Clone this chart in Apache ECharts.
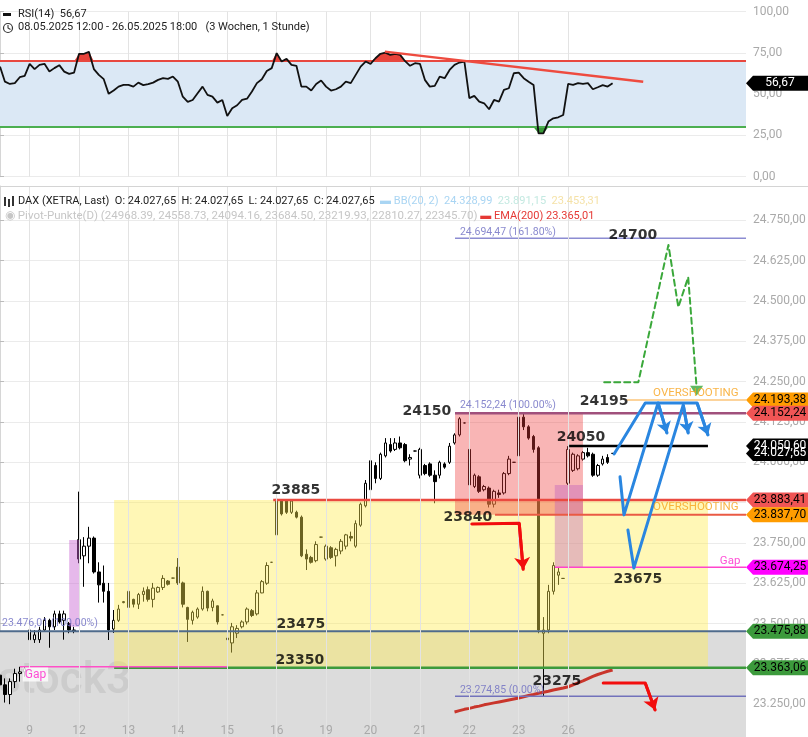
<!DOCTYPE html>
<html><head><meta charset="utf-8">
<script src="https://cdn.jsdelivr.net/npm/echarts/dist/echarts.min.js"></script>
<style>html,body{margin:0;padding:0;background:#fff}#c{width:808px;height:737px}</style>
</head><body><div id="c"></div>
<script>
// ================= DATA =================
const dayNames = ['8','9','12','13','14','15','16','19','20','21','22','23','26'];
const daySlots = [6,10,10,10,10,10,10,9,10,10,10,10,10];
const futureSlots = 27;

// [open, close, low, high] hourly candles
const candles = [
[23340,23310,23290,23395],[23310,23280,23255,23330],[23280,23320,23250,23330],[23320,23345,23300,23360],[23345,23350,23320,23366],[23350,23360,23335,23366],
[23480,23450,23445,23495],[23450,23465,23440,23480],[23450,23480,23440,23490],[23480,23510,23475,23520],[23510,23490,23425,23515],[23490,23530,23480,23540],[23530,23505,23500,23540],[23510,23530,23450,23540],[23500,23480,23470,23505],[23480,23476,23470,23490],
[23760,23700,23687,23909],[23710,23740,23614,23768],[23740,23765,23687,23800],[23765,23660,23655,23770],[23660,23620,23565,23690],[23625,23600,23565,23680],[23600,23480,23449,23626],[23483,23510,23471,23542],[23510,23545,23505,23558],[23565,23568,23563,23570],
[23550,23600,23548,23620],[23575,23560,23550,23577],[23560,23590,23545,23595],[23590,23600,23568,23612],[23605,23575,23568,23615],[23575,23610,23550,23626],[23598,23612,23595,23615],[23612,23640,23604,23650],[23632,23622,23618,23635],[23641,23641,23640,23642],
[23675,23626,23620,23703],[23626,23560,23550,23630],[23550,23513,23443,23552],[23510,23535,23497,23540],[23520,23545,23515,23550],[23545,23600,23540,23615],[23600,23548,23538,23602],[23550,23570,23538,23577],[23555,23505,23497,23556],[23527,23527,23526,23528],
[23455,23450,23335,23462],[23440,23490,23410,23502],[23470,23485,23455,23495],[23490,23505,23485,23510],[23505,23545,23497,23550],[23540,23525,23520,23545],[23530,23595,23525,23604],[23595,23630,23594,23635],[23625,23680,23620,23690],[23690,23690,23689,23691],
[23775,23885,23766,23890],[23880,23840,23835,23885],[23880,23845,23840,23885],[23845,23880,23840,23885],[23845,23830,23826,23850],[23830,23710,23706,23835],[23715,23700,23666,23730],[23705,23690,23686,23710],[23695,23745,23690,23755],[23768,23768,23767,23769],
[23700,23740,23695,23745],[23735,23705,23700,23740],[23710,23730,23677,23735],[23725,23755,23715,23762],[23740,23775,23730,23778],[23770,23765,23755,23785],[23740,23810,23735,23820],[23805,23870,23800,23875],[23865,23935,23860,23945],
[23915,24005,23905,24010],[23990,23950,23935,24000],[23950,24025,23945,24030],[24020,24060,24015,24075],[24055,24035,24030,24075],[24040,24060,24035,24075],[24060,24045,24040,24080],[24055,24005,24000,24060],[24010,24015,23990,24025],[24035,24035,24034,24036],
[23960,24040,23950,24045],[23990,23965,23960,23995],[23995,23960,23955,24000],[23960,23940,23873,23975],[23960,24000,23950,24005],[23995,23985,23980,24000],[24000,24050,23995,24060],[24060,24085,24055,24090],[24085,24135,24080,24140],[24122,24122,24121,24123],
[24040,23930,23915,24045],[23925,23960,23920,23965],[23955,23910,23905,23960],[23915,23925,23910,23930],[23920,23870,23860,23925],[23870,23910,23860,23915],[23905,23900,23890,23915],[23905,23965,23900,23970],[23965,24010,23960,24020],[24000,24000,23999,24001],
[24020,24140,24010,24152],[24140,24110,24100,24152],[24110,24075,24070,24115],[24080,24040,24030,24085],[24045,23480,23470,24050],[23470,23480,23275,23520],[23480,23600,23470,23620],[23600,23680,23590,23690],[23650,23660,23620,23675],[23640,23640,23639,23641],
[23935,24040,23930,24050],[23975,24025,23970,24030],[23980,24020,23975,24025],[24010,24030,24005,24035],[24030,24020,24015,24045],[24025,23960,23955,24030],[23960,23990,23955,23995],[23995,24010,23990,24020],[24015,24000,23995,24025],[24027.65,24027.65,24027.65,24027.65]
];

const rsiValues = [
66.7,57.6,56.2,56.7,60.3,61.1,
68.4,65.2,67.8,68.4,63.7,65.8,67.6,63.7,62.3,63.1,
74.5,74.5,75.7,65.2,61.7,59.1,50.2,52.2,54.6,55.6,
55.6,54.6,57,55.5,56.1,57,58.7,59.7,59.3,60.7,
57.6,48.5,45.3,46.5,50.6,54.6,49.6,48.5,44.9,46.5,
36.8,41.5,43.3,46.5,47.3,51.6,56.7,59.1,64.1,65.8,
74.9,69.8,71.4,67.8,67.2,54.6,54.6,52.2,56.2,58.3,
54.6,52.2,53,54.6,57.6,56.7,61.7,66.7,69.8,
68.4,71.8,74.5,75.2,73.8,74.5,73.8,70,67.2,68.8,
68.4,58.7,54.6,55,60.7,59.7,64.7,67.8,69.2,69.8,
47.6,49,45.5,44.5,40.9,46.5,45.5,52.6,53.6,62.7,
63.1,59.7,57.6,55.6,26.3,26.3,33.4,35.4,36,37.4,
56.2,55.6,56.7,56.2,56.7,53,54.2,55.5,54.6,56.67];

const emaStart = 92;
const emaValues = [23226,23230,23234,23237,23241,23244,23248,23251,23254,23257,23260,23263,23266,23269,23273,23277,23280,23284,23287,23290,23294,23297,23300,23304,23310,23316,23322,23329,23336,23342,23347,23352,23356];

// price levels
const lvlFib161 = 24694.47, lvlFib100 = 24152.24, lvlFib0 = 23274.85, lvlFibLeft = 23476.01;
const lvlOver1 = 24193.38, lvlRes = 23883.41, lvlOver2 = 23837.70, lvlBlack = 24050.60;
const lvlGap = 23674.25, lvlSup1 = 23475.88, lvlSup2 = 23363.06, lvlGapLeft = 23366, lastPrice = 24027.65, rsiLast = 56.67;

// ================= HELPERS =================
function de(v){ let s=Math.abs(v).toFixed(2); let [i,f]=s.split('.'); i=i.replace(/\B(?=(\d{3})+(?!\d))/g,'.'); return (v<0?'-':'')+i+','+f; }
const cats=[];
dayNames.forEach((d,k)=>{const h0=k===0?13:9; for(let j=0;j<daySlots[k];j++) cats.push(d+'|'+(h0+j));});
for(let j=0;j<futureSlots;j++) cats.push('f|x'+j);
const XMAX = cats.length-1;
const isDayStart = (i,v)=> String(v).split('|')[1]==='9';
const emaData = candles.map((c,i)=> i<emaStart ? null : emaValues[i-emaStart]);

const FONT='Roboto, sans-serif';
const chart = echarts.init(document.getElementById('c'));

function hline(x1,x2,p,color,width,z,type){
  return {type:'line',xAxisIndex:1,yAxisIndex:0,data:[[x1,p],[x2,p]],symbol:'none',silent:true,z:z||4,
    lineStyle:{color:color,width:width,type:type||'solid'}};
}
function poly(pts,color,width,dash){
  return {type:'line',xAxisIndex:1,yAxisIndex:0,data:pts,symbol:'none',silent:true,z:6,
    lineStyle:{color:color,width:width,type:dash||'solid',cap:'round',join:'round'}};
}
function arrowSeg(segs,color,width,size){
  return {type:'lines',coordinateSystem:'cartesian2d',xAxisIndex:1,yAxisIndex:0,silent:true,z:6,
    symbol:['none','arrow'],symbolSize:size||10,
    lineStyle:{color:color,width:width,opacity:1,curveness:0},
    data:segs.map(s=>({coords:s}))};
}
function texts(items,z){
  return {type:'scatter',xAxisIndex:1,yAxisIndex:0,symbolSize:0,silent:true,z:z||8,
    data:items.map(t=>({value:[t[1],t[2]],label:Object.assign({show:true,formatter:t[0]},t[3])}))};
}
const boldStyle={position:'inside',fontFamily:'DejaVu Sans',fontWeight:'bold',fontSize:14,color:'#000'};
const fibStyle={position:'right',distance:0,fontFamily:FONT,fontSize:10.5,color:'#6b6bc2'};
const overStyle={position:'right',distance:0,fontFamily:FONT,fontSize:11.5,color:'#f7a21b'};
const TAG='path://M0,8 L7,0 L62,0 L62,16 L7,16 Z';
function tag(p,bg,fg){return {coord:[XMAX,p],itemStyle:{color:bg},label:{formatter:de(p),color:fg}};}

const greenPath=[[122.3,24248],[129.2,24248],[135.3,24674],[137.3,24481],[139.3,24574],[141.0,24232]];
const blue1=[[124.3,24026],[130.6,24184],[141.1,24184],[143.3,24085]];
const blue2=[[125.5,23955],[126.3,23837],[133.2,24184],[135.0,24091]];
const blue3=[[127.1,23790],[128.3,23672],[138.3,24178],[139.3,24091]];
const red1=[[95.5,23809],[105.1,23811],[105.9,23668]];
const red2=[[122.1,23316],[130.6,23316],[132.6,23232]];
const BLUE='#2a86e0';
const F11='11px '+FONT, F115='11.5px '+FONT;

const option={
  animation:false,
  backgroundColor:'#fff',
  grid:[{left:0,top:186,width:746,height:558.5,outerBoundsMode:'none',containLabel:false},
        {left:0,top:11.7,width:746,height:165,outerBoundsMode:'none',containLabel:false}],
  xAxis:[
    {type:'category',gridIndex:0,data:cats,boundaryGap:false,z:5,axisLine:{show:false},axisTick:{show:false},
     axisLabel:{inside:true,interval:isDayStart,formatter:v=>v.split('|')[0],color:'#a9a9a9',fontSize:12,margin:8,fontFamily:FONT},
     splitLine:{show:true,interval:isDayStart,lineStyle:{color:'#e3e3e3'}}},
    {type:'value',gridIndex:0,min:0,max:XMAX,show:false},
    {type:'category',gridIndex:1,data:cats,boundaryGap:false,axisLine:{show:false},axisTick:{show:false},axisLabel:{show:false},
     splitLine:{show:true,interval:isDayStart,lineStyle:{color:'#e3e3e3'}}},
    {type:'value',gridIndex:1,min:0,max:XMAX,show:false}
  ],
  yAxis:[
    {type:'value',gridIndex:0,position:'right',min:23125,max:24856.74,interval:125,
     axisLine:{show:true,lineStyle:{color:'#d6d6d6'}},axisTick:{show:true,length:4,lineStyle:{color:'#bbb'}},
     axisLabel:{formatter:de,color:'#a9a9a9',fontSize:12,margin:7,fontFamily:FONT,showMaxLabel:false},
     splitLine:{show:true,lineStyle:{color:'#ebebeb'}}},
    {type:'value',gridIndex:1,position:'right',min:0,max:100,interval:25,
     axisLine:{show:true,lineStyle:{color:'#d6d6d6'}},axisTick:{show:true,length:4,lineStyle:{color:'#bbb'}},
     axisLabel:{formatter:de,color:'#a9a9a9',fontSize:12,margin:7,fontFamily:FONT},
     splitLine:{show:true,lineStyle:{color:'#ebebeb'}}}
  ],
  graphic:[
    {type:'rect',z:20,shape:{x:3,y:13,width:8,height:3},style:{fill:'#111'}},
    {type:'text',z:20,left:18,top:9,style:{text:'RSI(14)  56,67',font:F11,fill:'#222'}},
    {type:'circle',z:20,shape:{cx:8,cy:28,r:4.5},style:{fill:'none',stroke:'#333',lineWidth:1.2}},
    {type:'polyline',z:20,shape:{points:[[8,25],[8,28],[10.5,29.5]]},style:{fill:'none',stroke:'#333',lineWidth:1.1}},
    {type:'text',z:20,left:18,top:22,style:{text:'08.05.2025 12:00 - 26.05.2025 18:00   (3 Wochen, 1 Stunde)',font:F11,fill:'#222'}},
    {type:'line',z:20,shape:{x1:0,y1:186.5,x2:808,y2:186.5},style:{stroke:'#d4d4d4',lineWidth:1}},
    {type:'rect',z:20,shape:{x:4,y:197,width:2,height:9},style:{fill:'#333'}},
    {type:'rect',z:20,shape:{x:8,y:199,width:2,height:8},style:{fill:'#333'}},
    {type:'rect',z:20,shape:{x:12,y:196,width:2,height:10},style:{fill:'#333'}},
    {type:'text',z:20,left:18,top:196,style:{text:'{k|DAX (XETRA, Last)  O: 24.027,65  H: 24.027,65  L: 24.027,65  C: 24.027,65}  {b1|▬ BB(20, 2)  24.328,99}  {b2|23.891,15}  {b3|23.453,31}',
      font:F11,rich:{k:{fill:'#222',font:F11},b1:{fill:'#a9d5f3',font:F11},b2:{fill:'#c3e9e1',font:F11},b3:{fill:'#f5e2a8',font:F11}}}},
    {type:'text',z:20,left:5,top:210,style:{text:'{p|◉ Pivot-Punkte(D) (24968.39, 24558.73, 24094.16, 23684.50, 23219.93, 22810.27, 22345.70)} {e|▬ EMA(200) 23.365,01}',
      font:F115,rich:{p:{fill:'#c6c6c6',font:F115},e:{fill:'#e53935',font:F11}}}},
    {type:'text',left:-2,top:660,z:1.5,style:{text:'stock3',font:'600 44px '+FONT,fill:'rgba(0,0,0,0.07)'}}
  ],
  series:[
    // ---- RSI pane ----
    {type:'line',xAxisIndex:2,yAxisIndex:1,data:rsiValues.map(()=>70),stack:'ob',symbol:'none',silent:true,lineStyle:{width:0,opacity:0},z:2},
    {type:'line',xAxisIndex:2,yAxisIndex:1,data:rsiValues.map(v=>v>70?v-70:0),stack:'ob',symbol:'none',silent:true,lineStyle:{width:0,opacity:0},areaStyle:{color:'#e8433a',opacity:1},z:2},
    {type:'line',xAxisIndex:2,yAxisIndex:1,data:rsiValues.map(v=>Math.min(v,30)),stack:'os',symbol:'none',silent:true,lineStyle:{width:0,opacity:0},z:2},
    {type:'line',xAxisIndex:2,yAxisIndex:1,data:rsiValues.map(v=>v<30?30-v:0),stack:'os',symbol:'none',silent:true,lineStyle:{width:0,opacity:0},areaStyle:{color:'#3a9a3a',opacity:1},z:2},
    {type:'line',xAxisIndex:2,yAxisIndex:1,data:rsiValues,symbol:'none',silent:true,lineStyle:{color:'#111',width:1.8},z:5,
      markArea:{silent:true,z:1,itemStyle:{color:'#dbe8f5'},data:[[{yAxis:30},{yAxis:70}]]},
      markLine:{silent:true,symbol:'none',z:3,label:{show:false},data:[
        {yAxis:70,lineStyle:{color:'#e8483f',width:2,type:'solid'}},
        {yAxis:30,lineStyle:{color:'#4caf50',width:2,type:'solid'}}]}},
    {type:'line',xAxisIndex:3,yAxisIndex:1,data:[[77.9,75.8],[130.2,57.6]],symbol:'none',silent:true,lineStyle:{color:'#ee4b3f',width:2.5},z:6,
      markPoint:{silent:true,z:10,symbol:TAG,symbolSize:[62,15],symbolOffset:[31,0],
        label:{show:true,position:'inside',offset:[3,0],fontSize:12,fontFamily:FONT},
        data:[{coord:[XMAX,rsiLast],itemStyle:{color:'#000'},label:{formatter:de(rsiLast),color:'#fff'}}]}},
    // ---- main pane ----
    {type:'candlestick',xAxisIndex:0,yAxisIndex:0,data:candles,barWidth:3,silent:true,z:2,
      itemStyle:{color:'#fff',color0:'#000',borderColor:'#000',borderColor0:'#000',borderWidth:1},
      markArea:{silent:true,z:1,itemStyle:{color:'#dcdcdc'},data:[[{yAxis:lvlSup1},{yAxis:23125}]]}},
    {type:'line',xAxisIndex:1,yAxisIndex:0,data:[],silent:true,
      markArea:{silent:true,z:3,data:[
        [{coord:[23.1,lvlRes],itemStyle:{color:'rgba(255,236,80,0.42)'}},{coord:[143.3,lvlSup2]}],
        [{coord:[92.1,lvlFib100],itemStyle:{color:'rgba(240,60,60,0.38)'}},{coord:[118,lvlOver2]}],
        [{coord:[112.3,23930],itemStyle:{color:'rgba(190,90,190,0.38)'}},{coord:[118,lvlGap]}],
        [{coord:[14,23759],itemStyle:{color:'rgba(200,100,210,0.45)'}},{coord:[16.05,23490]}]
      ]}},
    {type:'line',xAxisIndex:0,yAxisIndex:0,data:emaData,symbol:'none',silent:true,z:4,lineStyle:{color:'#c9352b',width:3}},
    hline(0,XMAX,lvlSup1,'#4f6b8c',2),
    hline(23.1,XMAX,lvlSup2,'#3c9a3c',2.5),
    hline(4.05,46.15,lvlGapLeft,'#ff4fc8',1.5),
    hline(55.3,XMAX,lvlRes,'#ea4a40',2.5),
    hline(100.2,XMAX,lvlOver2,'#ea5a44',2),
    hline(92.1,XMAX,lvlFib100,'#a0507c',2.5),
    hline(92.1,XMAX,lvlFib161,'#8c8cd2',1.5),
    hline(92.1,XMAX,lvlFib0,'#7272bb',1.5),
    hline(126.9,XMAX,lvlOver1,'#fbc47a',1.5),
    hline(112.3,XMAX,lvlGap,'#ff44cc',1.5),
    hline(115.2,143.3,lvlBlack,'#000',2.5),
    // arrows
    poly(greenPath,'#3aa83a',2,[6,4]),
    {type:'scatter',xAxisIndex:1,yAxisIndex:0,silent:true,z:7,symbol:'triangle',symbolRotate:180,symbolSize:[13,10],itemStyle:{color:'#3aa83a'},data:[[141.0,24222]]},
    poly(blue1,BLUE,3),poly(blue2,BLUE,3),poly(blue3,BLUE,3),
    arrowSeg([blue1.slice(2),blue2.slice(2),blue3.slice(2)],BLUE,3,11),
    poly(red1,'#f20d0d',3),poly(red2,'#f20d0d',3),
    arrowSeg([red1.slice(1),red2.slice(1)],'#f20d0d',3,12),
    // texts
    texts([
      ['24700',128.1,24705,boldStyle],['24195',122.3,24190,boldStyle],['24150',86.4,24159,boldStyle],
      ['24050',117.6,24078,boldStyle],['23885',59.9,23914,boldStyle],['23840',94.7,23830,boldStyle],
      ['23675',129.1,23638,boldStyle],['23475',60.9,23496,boldStyle],['23350',60.7,23387,boldStyle],
      ['23275',112.7,23322,boldStyle],
      ['24.694,47 (161.80%)',93.1,24712,fibStyle],['24.152,24 (100.00%)',93.1,24178,fibStyle],
      ['23.274,85 (0.00%)',93.1,23294,fibStyle],['23.476,01 (100.00%)',0.4,23500,fibStyle],
      ['OVERSHOOTING',132.2,24214,overStyle],['OVERSHOOTING',132.2,23860,overStyle],
      ['Gap',145.7,23695,{position:'right',distance:0,fontFamily:FONT,fontSize:11.5,color:'#ff22cc'}],
      ['Gap',4.6,23342,{position:'right',distance:0,fontFamily:FONT,fontSize:12,color:'#ff22cc',backgroundColor:'#fff',padding:[1,2]}]
    ]),
    // tags
    {type:'line',xAxisIndex:1,yAxisIndex:0,data:[],silent:true,z:10,
      markPoint:{silent:true,z:10,symbol:TAG,symbolSize:[62,15],symbolOffset:[31,0],
        label:{show:true,position:'inside',offset:[3,0],fontSize:12,fontFamily:FONT},
        data:[tag(lvlOver1,'#ff9c00','#000'),tag(lvlFib100,'#f05555','#000'),tag(lvlBlack,'#000','#fff'),tag(lastPrice,'#000','#fff'),
              tag(lvlRes,'#f05555','#000'),tag(lvlOver2,'#ff9c00','#000'),tag(lvlGap,'#ff00ff','#000'),
              tag(lvlSup1,'#3c9a3c','#000'),tag(lvlSup2,'#3c9a3c','#000')]}}
  ]
};
chart.setOption(option);
</script>
</body></html>
